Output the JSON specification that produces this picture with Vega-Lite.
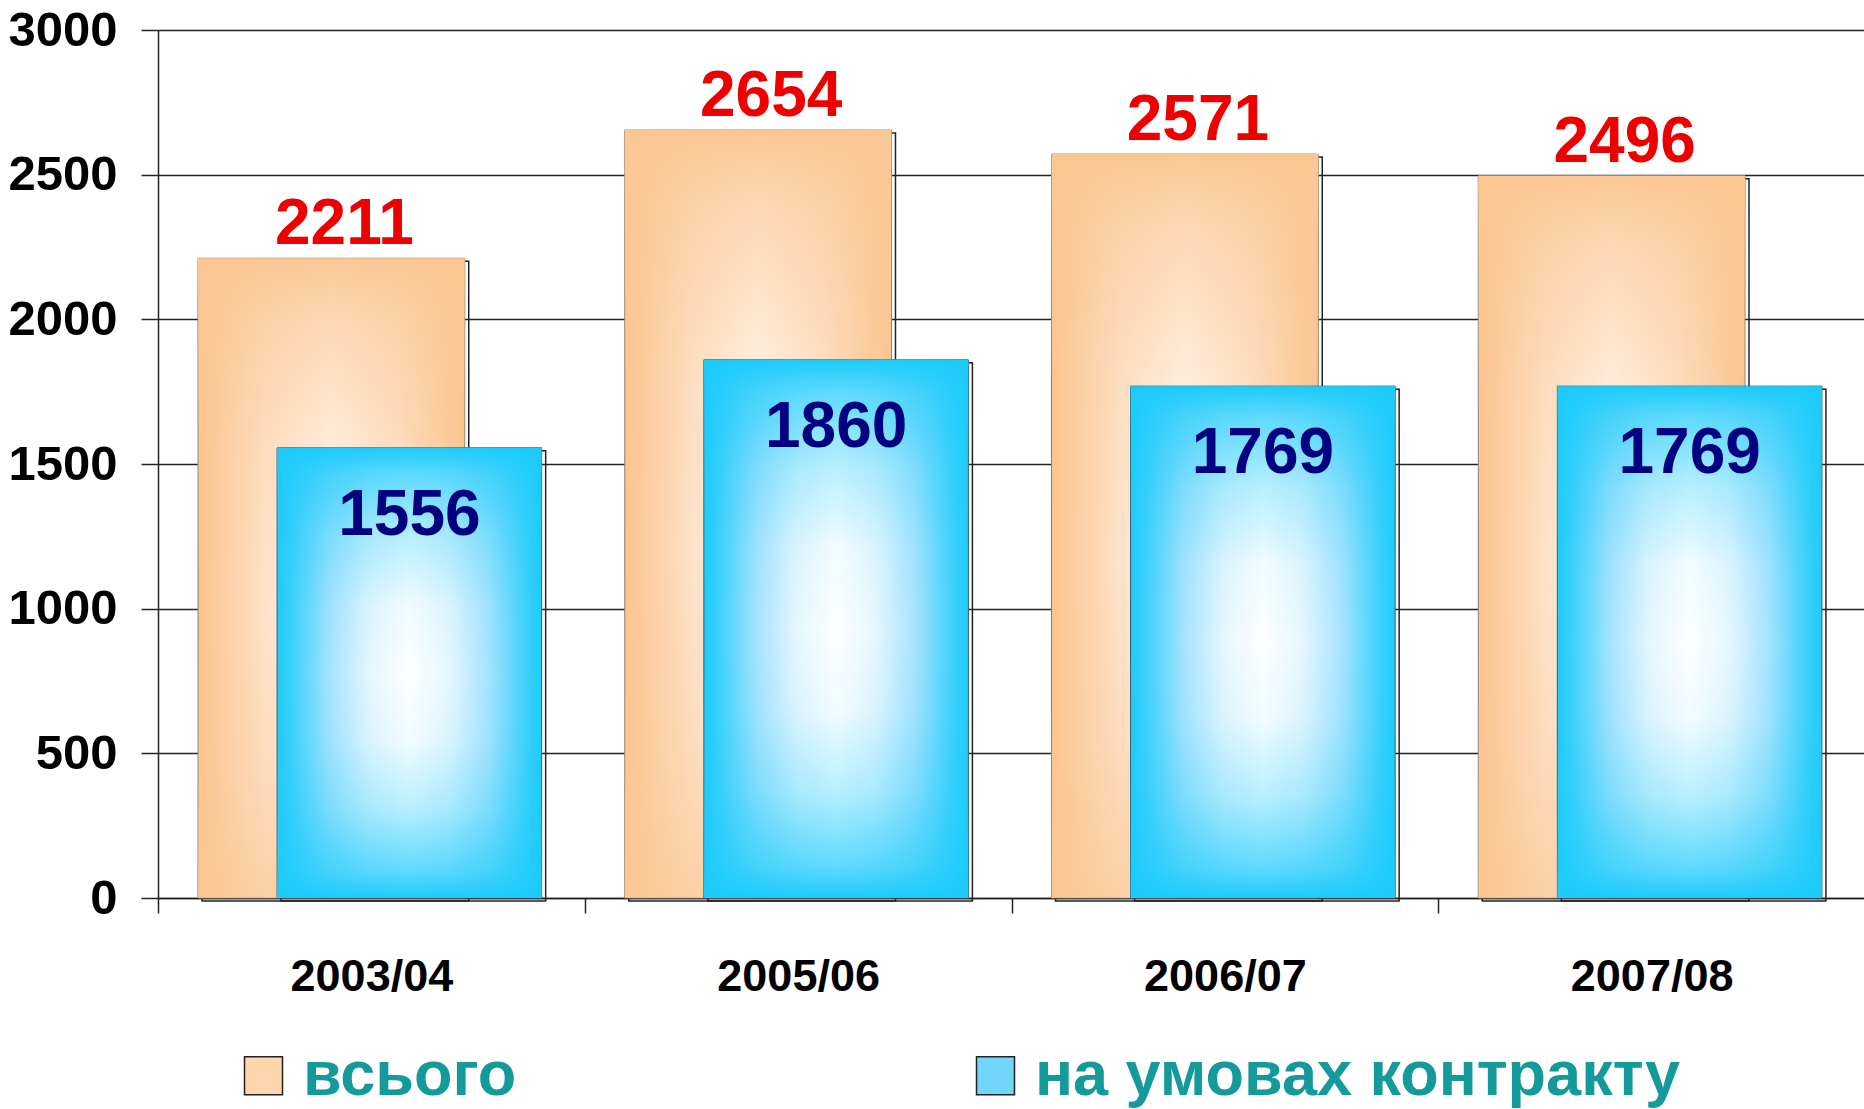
{
  "$schema": "https://vega.github.io/schema/vega-lite/v6.json",
  "width": 1707,
  "height": 868,
  "padding": {"left": 7, "top": 6, "right": 0, "bottom": 0},
  "background": "white",
  "data": {
    "values": [
      {"year": "2003/04", "series": "всього", "value": 2211},
      {"year": "2005/06", "series": "всього", "value": 2654},
      {"year": "2006/07", "series": "всього", "value": 2571},
      {"year": "2007/08", "series": "всього", "value": 2496},
      {"year": "2003/04", "series": "на умовах контракту", "value": 1556},
      {"year": "2005/06", "series": "на умовах контракту", "value": 1860},
      {"year": "2006/07", "series": "на умовах контракту", "value": 1769},
      {"year": "2007/08", "series": "на умовах контракту", "value": 1769}
    ]
  },
  "encoding": {
    "x": {
      "field": "year", "type": "nominal", "sort": null,
      "scale": {"paddingInner": 0, "paddingOuter": 0},
      "axis": {
        "title": null, "labelAngle": 0, "tickBand": "extent", "tickSize": 15,
        "tickColor": "#222", "tickWidth": 1.5, "domainColor": "#222", "domainWidth": 1.5,
        "labelFont": "Liberation Sans", "labelFontSize": 45, "labelFontWeight": "bold",
        "labelColor": "#000", "labelPadding": 41
      }
    },
    "y": {
      "field": "value", "type": "quantitative",
      "scale": {"domain": [0, 3000], "nice": false},
      "axis": {
        "title": null, "values": [0, 500, 1000, 1500, 2000, 2500, 3000], "format": "d",
        "grid": true, "gridColor": "#222", "gridWidth": 1.5,
        "tickSize": 17, "tickColor": "#222", "tickWidth": 1.5,
        "domainColor": "#222", "domainWidth": 1.5,
        "labelFont": "Liberation Sans", "labelFontSize": 49, "labelFontWeight": "bold",
        "labelColor": "#000", "labelPadding": 24
      }
    }
  },
  "layer": [
    {
      "transform": [{"filter": "datum.series === 'всього'"}],
      "mark": {"type": "bar", "width": {"band": 0.625}, "xOffset": -36, "yOffset": 3, "fill": null, "fillOpacity": 0, "stroke": "#222", "strokeWidth": 1.5}
    },
    {
      "transform": [{"filter": "datum.series === 'всього'"}],
      "mark": {"type": "bar", "width": {"band": 0.625}, "xOffset": -40, "stroke": "#8a7a6a", "strokeWidth": 1,
        "fill": {"gradient": "linear", "x1": 0, "y1": 0, "x2": 1, "y2": 0,
          "stops": [{"offset": 0, "color": "#fbc48e"}, {"offset": 0.1, "color": "#fccfa4"}, {"offset": 0.25, "color": "#fde2c9"}, {"offset": 0.5, "color": "#fff6ee"}, {"offset": 0.75, "color": "#fde2c9"}, {"offset": 0.9, "color": "#fccfa4"}, {"offset": 1, "color": "#fbc48e"}]}}
    },
    {
      "transform": [{"filter": "datum.series === 'всього'"}],
      "mark": {"type": "bar", "width": {"band": 0.625}, "xOffset": -40, "strokeWidth": 0,
        "fill": {"gradient": "linear", "x1": 0, "y1": 0, "x2": 0, "y2": 1,
          "stops": [{"offset": 0, "color": "rgba(251,200,148,1)"}, {"offset": 0.1, "color": "rgba(251,200,148,0.65)"}, {"offset": 0.3, "color": "rgba(251,200,148,0.2)"}, {"offset": 0.55, "color": "rgba(251,200,148,0)"}, {"offset": 0.8, "color": "rgba(251,200,148,0.25)"}, {"offset": 1, "color": "rgba(251,200,148,0.7)"}]}}
    },
    {
      "transform": [{"filter": "datum.series !== 'всього'"}],
      "mark": {"type": "bar", "width": {"band": 0.62}, "xOffset": 42, "yOffset": 3, "fill": null, "fillOpacity": 0, "stroke": "#222", "strokeWidth": 1.5}
    },
    {
      "transform": [{"filter": "datum.series !== 'всього'"}],
      "mark": {"type": "bar", "width": {"band": 0.62}, "xOffset": 38, "stroke": "#3a5a6a", "strokeWidth": 1,
        "fill": {"gradient": "linear", "x1": 0, "y1": 0, "x2": 1, "y2": 0,
          "stops": [{"offset": 0, "color": "#1ccbfb"}, {"offset": 0.07, "color": "#45d2fc"}, {"offset": 0.2, "color": "#a6e3fd"}, {"offset": 0.35, "color": "#e6f6ff"}, {"offset": 0.5, "color": "#ffffff"}, {"offset": 0.65, "color": "#e6f6ff"}, {"offset": 0.8, "color": "#a6e3fd"}, {"offset": 0.93, "color": "#45d2fc"}, {"offset": 1, "color": "#1ccbfb"}]}}
    },
    {
      "transform": [{"filter": "datum.series !== 'всього'"}],
      "mark": {"type": "bar", "width": {"band": 0.62}, "xOffset": 38, "strokeWidth": 0,
        "fill": {"gradient": "linear", "x1": 0, "y1": 0, "x2": 0, "y2": 1,
          "stops": [{"offset": 0, "color": "rgba(28,203,251,1)"}, {"offset": 0.06, "color": "rgba(28,203,251,0.7)"}, {"offset": 0.2, "color": "rgba(28,203,251,0.3)"}, {"offset": 0.35, "color": "rgba(28,203,251,0.06)"}, {"offset": 0.5, "color": "rgba(28,203,251,0)"}, {"offset": 0.65, "color": "rgba(28,203,251,0.06)"}, {"offset": 0.8, "color": "rgba(28,203,251,0.3)"}, {"offset": 0.94, "color": "rgba(28,203,251,0.7)"}, {"offset": 1, "color": "rgba(28,203,251,1)"}]}}
    },
    {
      "transform": [{"filter": "false"}],
      "mark": {"type": "square", "filled": true},
      "encoding": {
        "color": {
          "field": "series", "type": "nominal",
          "scale": {"domain": ["всього", "на умовах контракту"], "range": ["#fdd6ae", "#72d5fb"]},
          "legend": {
            "title": null, "orient": "none", "direction": "horizontal",
            "legendX": 74, "legendY": 1014,
            "symbolType": "square", "symbolSize": 1444, "symbolStrokeColor": "#222", "symbolStrokeWidth": 1.5,
            "symbolOpacity": 1,
            "labelFont": "Liberation Sans", "labelFontSize": 63, "labelFontWeight": "bold",
            "labelColor": "#149a9a", "labelOffset": 8, "columnPadding": 447, "labelLimit": 1000
          }
        }
      }
    },
    {
      "transform": [{"filter": "datum.series === 'всього'"}],
      "mark": {"type": "text", "font": "Liberation Sans", "fontSize": 64, "fontWeight": "bold", "color": "#ee0000", "baseline": "alphabetic", "dx": -27, "dy": -14},
      "encoding": {"text": {"field": "value", "type": "quantitative", "format": "d"}}
    },
    {
      "transform": [{"filter": "datum.series !== 'всього'"}],
      "mark": {"type": "text", "font": "Liberation Sans", "fontSize": 64, "fontWeight": "bold", "color": "#000080", "baseline": "alphabetic", "dx": 38, "dy": 87},
      "encoding": {"text": {"field": "value", "type": "quantitative", "format": "d"}}
    }
  ],
  "config": {"view": {"stroke": null}}
}
